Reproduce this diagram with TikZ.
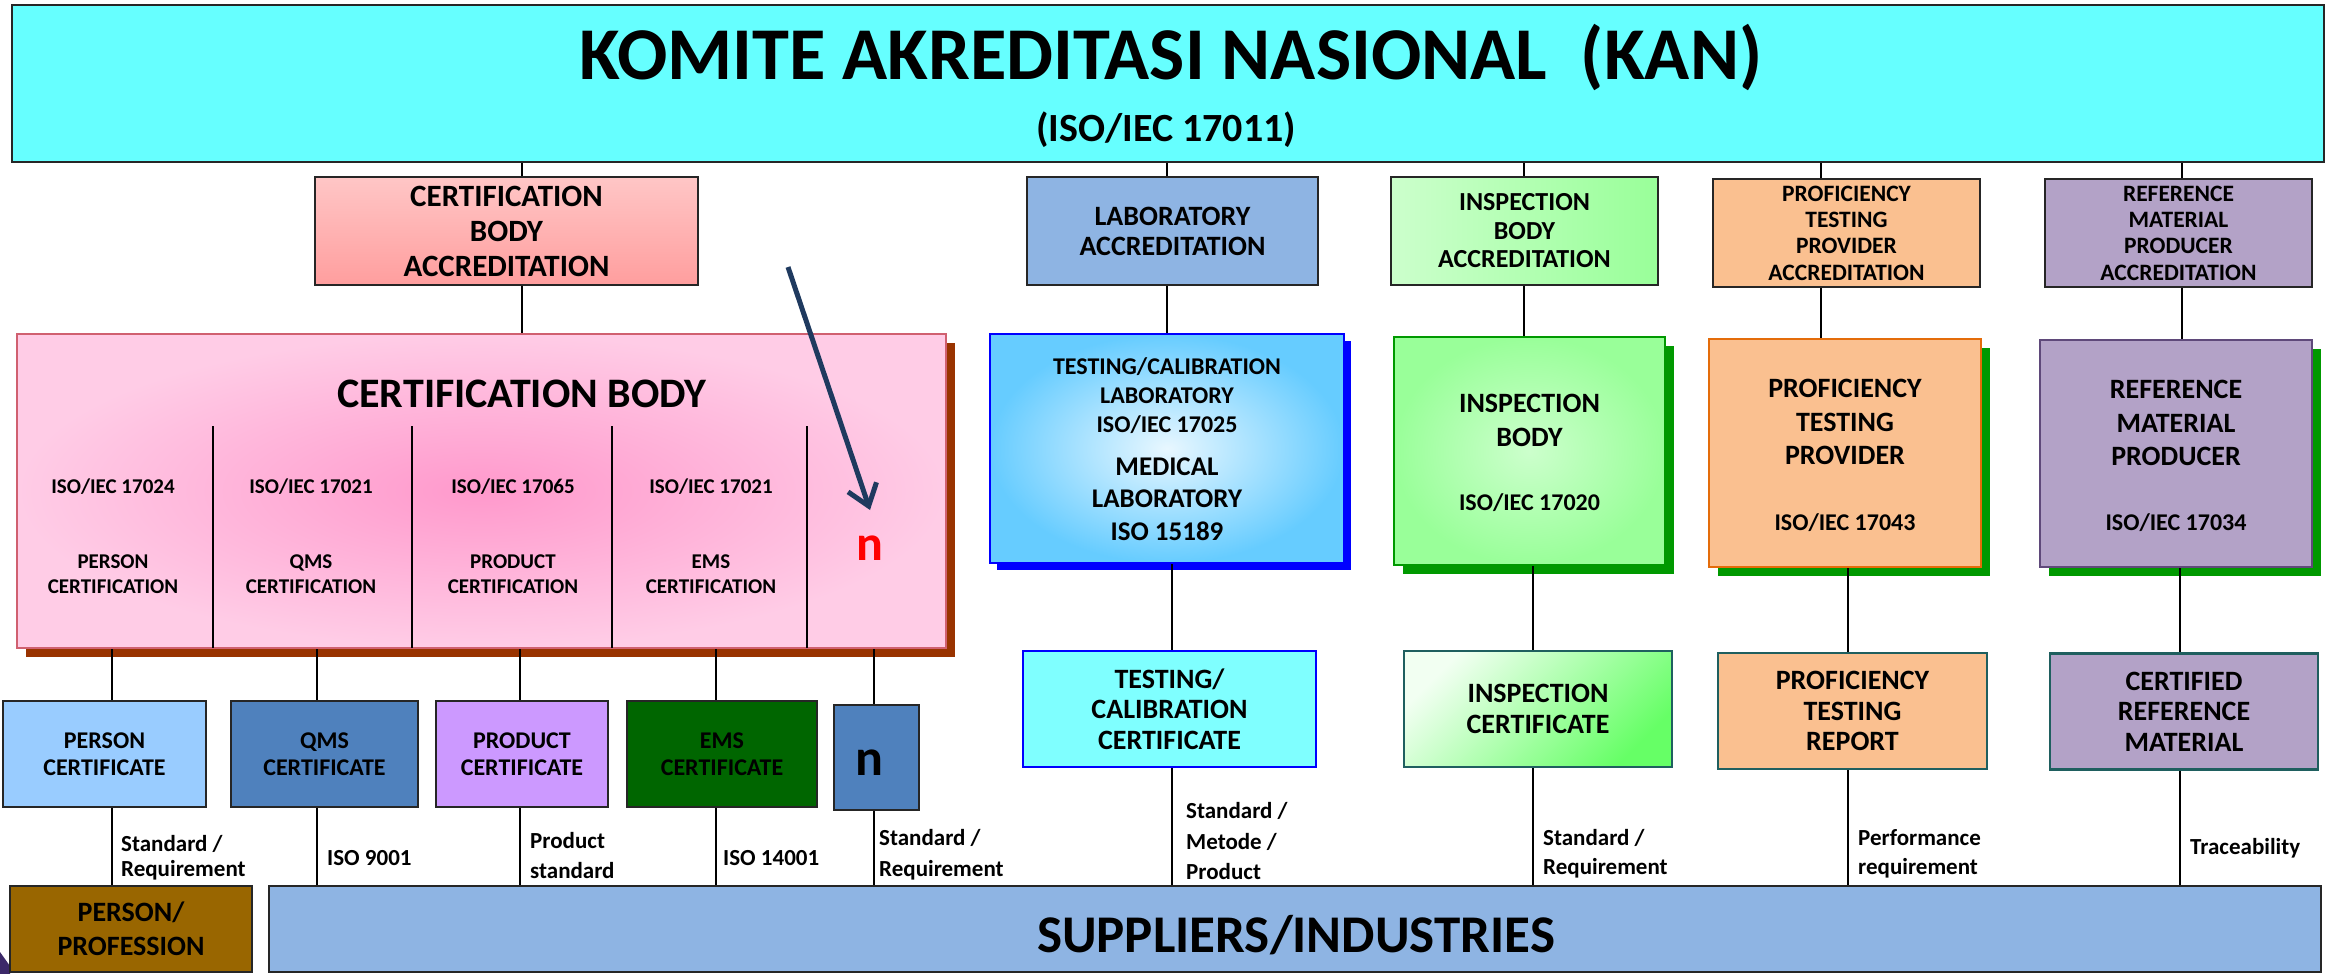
\documentclass[tikz,border=0pt]{standalone}
\usepackage{fontspec}
\setmainfont{Carlito}
\usetikzlibrary{arrows.meta,shadows}
\definecolor{kanc}{HTML}{66FFFF}
\definecolor{kanl}{HTML}{B8FFFF}
\definecolor{cbat}{HTML}{FFC6C6}
\definecolor{cbab}{HTML}{FF9E9E}
\definecolor{cbin}{HTML}{FF99CC}
\definecolor{cbout}{HTML}{FFCCE6}
\definecolor{cbborder}{HTML}{D06070}
\definecolor{cbshad}{HTML}{993300}
\definecolor{labacc}{HTML}{8EB4E3}
\definecolor{greenl}{HTML}{CCFFCC}
\definecolor{greenm}{HTML}{99FF99}
\definecolor{orangef}{HTML}{FAC090}
\definecolor{orangeb}{HTML}{E46C0A}
\definecolor{purplef}{HTML}{B3A2C7}
\definecolor{purpleb}{HTML}{5F497A}
\definecolor{labin}{HTML}{E8F7FF}
\definecolor{labout}{HTML}{66CCFF}
\definecolor{blueb}{HTML}{0000FF}
\definecolor{greens}{HTML}{009900}
\definecolor{cyanf}{HTML}{7FFFFF}
\definecolor{tealb}{HTML}{1F5F5F}
\definecolor{icl}{HTML}{F2FFF2}
\definecolor{icd}{HTML}{66FF66}
\definecolor{personc}{HTML}{99CCFF}
\definecolor{qmsc}{HTML}{4F81BD}
\definecolor{prodc}{HTML}{CC99FF}
\definecolor{emsc}{HTML}{006600}
\definecolor{ppc}{HTML}{996600}
\definecolor{supc}{HTML}{8EB4E3}
\definecolor{arrowc}{HTML}{1F3A5F}
\definecolor{nred}{HTML}{FF0000}
\begin{document}
\begin{tikzpicture}[x=1pt,y=-1pt,
  box/.style={draw=black!85, line width=2.2pt, align=center, inner sep=0pt},
  shbig/.style={drop shadow={shadow xshift=9pt, shadow yshift=-9pt, opacity=1, fill=#1}},
  shsmall/.style={drop shadow={shadow xshift=7pt, shadow yshift=-7pt, opacity=1, fill=#1}},
  lnk/.style={draw=black, line width=2pt},
  lbl/.style={anchor=west, align=left, inner sep=0pt, font=\bfseries\fontsize{23}{29}\selectfont},
  cbcol/.style={align=center, inner sep=0pt, font=\bfseries\fontsize{21}{25}\selectfont},
  certl/.style={box, line width=2pt, minimum height=106pt, font=\bfseries\fontsize{24}{27}\selectfont},
  certr/.style={box, line width=2.2pt, minimum height=116pt, font=\bfseries\fontsize{28}{30.5}\selectfont},
  big/.style={align=center, inner sep=0pt, font=\bfseries\fontsize{28}{33.5}\selectfont},
  iso/.style={align=center, inner sep=0pt, font=\bfseries\fontsize{24}{29}\selectfont}
]
\useasboundingbox[fill=white] (0,0) rectangle (2328,974);
\fill[arrowc!70!violet] (0,952) -- (10,966) -- (10,974) -- (0,974) -- cycle;
% banner
\node[box, minimum width=2312pt, minimum height=157pt, top color=kanc, middle color=kanl, bottom color=kanc] (kan) at (1168,83.5) {};
\node[font=\bfseries\fontsize{74.5}{80}\selectfont] (kant) at (1171,57) {KOMITE AKREDITASI NASIONAL\ \ (KAN)};
\node[font=\bfseries\fontsize{40}{46}\selectfont] (kaniso) at (1166,130) {(ISO/IEC 17011)};
% accreditation row
\node[box, minimum width=383pt, minimum height=108pt, top color=cbat, bottom color=cbab, font=\bfseries\fontsize{31}{35}\selectfont] (cba) at (506.5,231) {CERTIFICATION\\BODY\\ACCREDITATION};
\node[box, minimum width=291pt, minimum height=108pt, fill=labacc, font=\bfseries\fontsize{28}{30}\selectfont] (laba) at (1172.5,231) {LABORATORY\\ACCREDITATION};
\node[box, minimum width=267pt, minimum height=108pt, left color=greenl, right color=greenm, font=\bfseries\fontsize{26}{28.5}\selectfont] (iba) at (1524.5,231) {INSPECTION\\BODY\\ACCREDITATION};
\node[box, minimum width=267pt, minimum height=108pt, fill=orangef, font=\bfseries\fontsize{23.5}{26.3}\selectfont] (ptpa) at (1846.5,233) {PROFICIENCY\\TESTING\\PROVIDER\\ACCREDITATION};
\node[box, minimum width=267pt, minimum height=108pt, fill=purplef, font=\bfseries\fontsize{23.5}{26.3}\selectfont] (rmpa) at (2178.5,233) {REFERENCE\\MATERIAL\\PRODUCER\\ACCREDITATION};
% body row
\node[box, draw=cbborder, line width=2pt, shbig=cbshad, minimum width=929pt, minimum height=314pt, inner color=cbin, outer color=cbout] (cb) at (481.5,491) {};
\node[font=\bfseries\fontsize{42}{48}\selectfont] (cbt) at (522,394) {CERTIFICATION BODY};
\foreach \dx in {213,411.5,612,807} \draw[lnk] (\dx,426) -- (\dx,648);
\node[cbcol] (c1i) at (113,487) {ISO/IEC 17024};
\node[cbcol] (c2i) at (311,487) {ISO/IEC 17021};
\node[cbcol] (c3i) at (513,487) {ISO/IEC 17065};
\node[cbcol] (c4i) at (711,487) {ISO/IEC 17021};
\node[cbcol] (c1n) at (113,574.5) {PERSON\\CERTIFICATION};
\node[cbcol] (c2n) at (311,574.5) {QMS\\CERTIFICATION};
\node[cbcol] (c3n) at (513,574.5) {PRODUCT\\CERTIFICATION};
\node[cbcol] (c4n) at (711,574.5) {EMS\\CERTIFICATION};
\node[text=nred, inner sep=0pt, font=\bfseries\fontsize{50}{55}\selectfont] (c5n) at (870,548) {n};

\node[box, draw=blueb, line width=2.2pt, shsmall=blueb, minimum width=354pt, minimum height=229pt, inner color=labin, outer color=labout] (labb) at (1167,448.5) {};
\node[iso] (labt1) at (1167,396) {TESTING/CALIBRATION\\LABORATORY\\ISO/IEC 17025};
\node[align=center, inner sep=0pt, font=\bfseries\fontsize{27}{32.5}\selectfont] (labt2) at (1167,499) {MEDICAL\\LABORATORY\\ISO 15189};

\node[box, draw=greens, line width=2.2pt, shbig=greens, minimum width=271pt, minimum height=228pt, inner color=greenl, outer color=greenm] (ib) at (1529.5,451) {};
\node[big, font=\bfseries\fontsize{28}{34}\selectfont] (ibt) at (1529.5,420) {INSPECTION\\BODY};
\node[iso] (ibi) at (1529.5,503) {ISO/IEC 17020};

\node[box, draw=orangeb, line width=2.2pt, shbig=greens, minimum width=272pt, minimum height=228pt, fill=orangef] (ptp) at (1845,453) {};
\node[big] (ptpt) at (1845,422) {PROFICIENCY\\TESTING\\PROVIDER};
\node[iso] (ptpi) at (1845,523) {ISO/IEC 17043};

\node[box, draw=purpleb, line width=2.2pt, shbig=greens, minimum width=272pt, minimum height=227pt, fill=purplef] (rmp) at (2176,453.5) {};
\node[big] (rmpt) at (2176,423) {REFERENCE\\MATERIAL\\PRODUCER};
\node[iso] (rmpi) at (2176,523) {ISO/IEC 17034};

% certificates left
\node[certl, minimum width=203pt, fill=personc] (pc) at (104.5,754) {PERSON\\CERTIFICATE};
\node[certl, minimum width=187pt, fill=qmsc] (qc) at (324.5,754) {QMS\\CERTIFICATE};
\node[certl, minimum width=172pt, fill=prodc] (prc) at (522,754) {PRODUCT\\CERTIFICATE};
\node[certl, minimum width=190pt, fill=emsc] (ec) at (722,754) {EMS\\CERTIFICATE};
\node[certl, minimum width=85pt, minimum height=105pt, fill=qmsc] (nc) at (876.5,757.5) {};
\node[inner sep=0pt, font=\bfseries\fontsize{52}{56}\selectfont] (nct) at (869,763) {n};

% certificates right
\node[certr, draw=blueb, minimum width=293pt, fill=cyanf] (tcc) at (1169.5,709) {TESTING/\\CALIBRATION\\CERTIFICATE};
\node[certr, draw=tealb, minimum width=268pt, top color=icl, middle color=icl!80!icd, bottom color=icd, shading angle=45] (ic) at (1538,709) {INSPECTION\\CERTIFICATE};
\node[certr, draw=tealb, minimum width=269pt, fill=orangef] (ptr) at (1852.5,711) {PROFICIENCY\\TESTING\\REPORT};
\node[certr, draw=tealb, minimum width=268pt, fill=purplef] (crm) at (2184,711.5) {CERTIFIED\\REFERENCE\\MATERIAL};

% bottom
\node[box, minimum width=242pt, minimum height=86pt, fill=ppc, font=\bfseries\fontsize{28}{34}\selectfont] (pp) at (131,929) {PERSON/\\PROFESSION};
\node[box, minimum width=2052pt, minimum height=86pt, fill=supc] (sup) at (1295,929) {};
\node[inner sep=0pt, font=\bfseries\fontsize{53}{58}\selectfont] (supt) at (1296,935) {SUPPLIERS/INDUSTRIES};

% connector x positions
\coordinate (xa1) at (522,0);
\coordinate (xa2) at (1167,0);
\coordinate (xa3) at (1524,0);
\coordinate (xa4) at (1821,0);
\coordinate (xa5) at (2182,0);
\coordinate (xb2) at (1172,0);
\coordinate (xb3) at (1533,0);
\coordinate (xb4) at (1848,0);
\coordinate (xb5) at (2180,0);
\coordinate (xl1) at (112,0);
\coordinate (xl2) at (317,0);
\coordinate (xl3) at (520,0);
\coordinate (xl4) at (716,0);
\coordinate (xl5) at (874,0);

\draw[lnk] (kan.south -| xa1) -- (cba.north -| xa1);
\draw[lnk] (kan.south -| xa2) -- (laba.north -| xa2);
\draw[lnk] (kan.south -| xa3) -- (iba.north -| xa3);
\draw[lnk] (kan.south -| xa4) -- (ptpa.north -| xa4);
\draw[lnk] (kan.south -| xa5) -- (rmpa.north -| xa5);
\draw[lnk] (cba.south -| xa1) -- (cb.north -| xa1);
\draw[lnk] (laba.south -| xa2) -- (labb.north -| xa2);
\draw[lnk] (iba.south -| xa3) -- (ib.north -| xa3);
\draw[lnk] (ptpa.south -| xa4) -- (ptp.north -| xa4);
\draw[lnk] (rmpa.south -| xa5) -- (rmp.north -| xa5);
\draw[lnk] (labb.south -| xb2) -- (tcc.north -| xb2);
\draw[lnk] (ib.south -| xb3) -- (ic.north -| xb3);
\draw[lnk] (ptp.south -| xb4) -- (ptr.north -| xb4);
\draw[lnk] (rmp.south -| xb5) -- (crm.north -| xb5);
\draw[lnk] (tcc.south -| xb2) -- (sup.north -| xb2);
\draw[lnk] (ic.south -| xb3) -- (sup.north -| xb3);
\draw[lnk] (ptr.south -| xb4) -- (sup.north -| xb4);
\draw[lnk] (crm.south -| xb5) -- (sup.north -| xb5);
\draw[lnk] (cb.south -| xl1) -- (pc.north -| xl1);
\draw[lnk] (cb.south -| xl2) -- (qc.north -| xl2);
\draw[lnk] (cb.south -| xl3) -- (prc.north -| xl3);
\draw[lnk] (cb.south -| xl4) -- (ec.north -| xl4);
\draw[lnk] (cb.south -| xl5) -- (nc.north -| xl5);
\draw[lnk] (pc.south -| xl1) -- (pp.north -| xl1);
\draw[lnk] (qc.south -| xl2) -- (sup.north -| xl2);
\draw[lnk] (prc.south -| xl3) -- (sup.north -| xl3);
\draw[lnk] (ec.south -| xl4) -- (sup.north -| xl4);
\draw[lnk] (nc.south -| xl5) -- (sup.north -| xl5);

% labels
\node[lbl, font=\bfseries\fontsize{23}{25}\selectfont] (l1) at (121,857.5) {Standard /\\Requirement};
\node[lbl] (l2) at (327,858) {ISO 9001};
\node[lbl, font=\bfseries\fontsize{23}{30}\selectfont] (l3) at (530,856) {Product\\standard};
\node[lbl] (l4) at (723,858) {ISO 14001};
\node[lbl, font=\bfseries\fontsize{23}{31}\selectfont] (l5) at (879,854.5) {Standard /\\Requirement};
\node[lbl, font=\bfseries\fontsize{23}{30.5}\selectfont] (l6) at (1186,841.5) {Standard /\\Metode /\\Product};
\node[lbl] (l7) at (1543,853.5) {Standard /\\Requirement};
\node[lbl] (l8) at (1858,853.5) {Performance\\requirement};
\node[lbl] (l9) at (2190,848) {Traceability};

% arrow
\coordinate (arrs) at (788,267);
\coordinate (arre) at (870,510);
\draw[draw=arrowc, line width=5pt, -{Straight Barb[length=20pt,width=30pt]}] (arrs) -- (arre);
\end{tikzpicture}
\end{document}
